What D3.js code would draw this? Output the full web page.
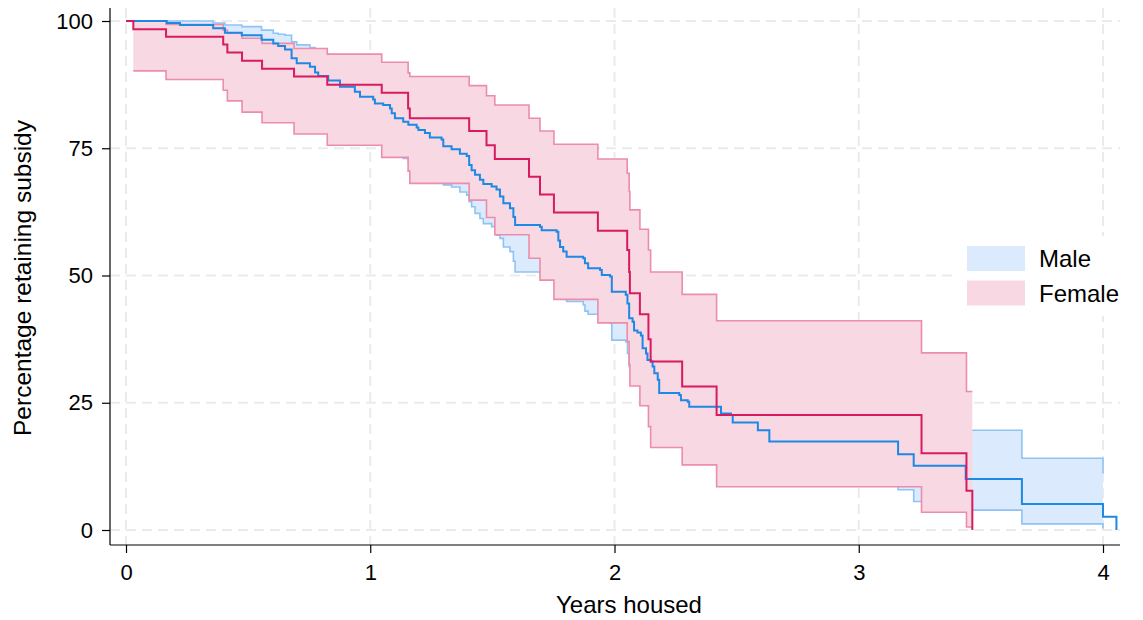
<!DOCTYPE html>
<html>
<head>
<meta charset="utf-8">
<script src="https://cdn.jsdelivr.net/npm/d3@7"></script>
<style>
  body { margin: 0; background: #fff; }
  text { font-family: "Liberation Sans", Arial, Helvetica, sans-serif; fill: #000; }
</style>
</head>
<body>
<div id="chart"></div>
<script>
// Kaplan-Meier survival by sex, with confidence bands
const xTicks = [0, 1, 2, 3, 4];
const yTicks = [0, 25, 50, 75, 100];
const legendLabels = ["Male", "Female"];

const maleTime = [0, 0.167, 0.221, 0.357, 0.405, 0.474, 0.555, 0.603, 0.623, 0.651,
  0.678, 0.699, 0.753, 0.774, 0.787, 0.828, 0.876, 0.937, 0.958, 1.012,
  1.019, 1.053, 1.081, 1.088, 1.101, 1.135, 1.156, 1.190, 1.197, 1.224,
  1.244, 1.292, 1.299, 1.333, 1.367, 1.395, 1.405, 1.415, 1.429, 1.449,
  1.463, 1.497, 1.517, 1.531, 1.545, 1.572, 1.586, 1.593, 1.695, 1.702,
  1.763, 1.770, 1.777, 1.790, 1.804, 1.872, 1.879, 1.892, 1.941, 1.948,
  1.982, 1.989, 2.046, 2.053, 2.060, 2.074, 2.080, 2.094, 2.108, 2.115,
  2.129, 2.135, 2.149, 2.156, 2.163, 2.177, 2.183, 2.265, 2.272, 2.300,
  2.306, 2.436, 2.477, 2.484, 2.587, 2.634, 3.161, 3.225, 3.438, 3.668,
  4.000, 4.055];
const maleSurv = [100, 99.6, 99.2, 98.6, 97.7, 97.2, 96.3, 95.6, 95.1, 94.4,
  92.7, 91.7, 91.0, 89.9, 89.2, 88.3, 87.1, 86.1, 85.1, 84.6,
  83.8, 83.5, 82.8, 81.9, 80.9, 80.2, 79.6, 79.1, 78.6, 78.0,
  77.1, 76.7, 75.4, 74.8, 73.9, 73.5, 71.7, 70.7, 69.8, 68.8,
  68.0, 67.5, 66.9, 65.5, 64.2, 63.2, 61.5, 59.9, 59.6, 58.9,
  58.6, 56.9, 55.6, 54.7, 53.7, 53.4, 52.4, 51.4, 51.1, 50.1,
  49.8, 46.8, 46.2, 44.5, 41.6, 40.9, 39.2, 38.8, 38.2, 35.7,
  34.7, 33.4, 33.1, 32.1, 30.8, 29.5, 26.9, 26.5, 25.5, 25.2,
  24.2, 22.9, 22.6, 21.1, 19.6, 17.4, 14.9, 12.6, 10.0, 5.1,
  2.6, 0];
const maleUpper = [100, 100, 100, 99.6, 99.2, 98.9, 98.2, 97.6, 97.4, 97.2,
  95.9, 95.3, 94.8, 94.0, 93.4, 92.6, 91.6, 90.7, 89.8, 89.3,
  88.6, 88.4, 87.8, 87.0, 86.1, 85.5, 85.0, 84.6, 84.1, 83.6,
  82.8, 82.4, 81.2, 80.7, 79.9, 79.5, 77.9, 77.0, 76.2, 75.3,
  74.6, 74.2, 73.6, 72.4, 71.2, 70.3, 68.8, 67.4, 67.1, 66.5,
  66.2, 64.7, 63.5, 62.7, 61.8, 61.5, 60.6, 59.7, 59.4, 58.5,
  58.2, 55.5, 55.0, 53.4, 50.7, 50.1, 48.5, 48.1, 47.6, 45.3,
  44.4, 43.2, 42.9, 42.0, 40.8, 39.6, 37.1, 36.7, 35.8, 35.5,
  34.5, 33.2, 32.9, 31.4, 29.9, 27.7, 25.2, 22.6, 19.6, 14.1,
  11.1, null];
const maleLower = [100, 98.0, 97.5, 96.6, 95.5, 94.9, 93.7, 92.9, 92.2, 91.4,
  89.3, 88.2, 87.3, 86.0, 85.3, 84.0, 82.6, 81.4, 80.3, 79.6,
  78.7, 78.2, 77.3, 76.3, 74.4, 73.0, 72.3, 71.8, 71.2, 70.5,
  69.5, 68.6, 67.8, 67.4, 66.4, 65.8, 64.5, 63.5, 62.2, 61.2,
  60.2, 59.6, 57.9, 57.3, 55.6, 54.7, 52.8, 50.7, 50.4, 49.6,
  49.2, 47.8, 46.6, 45.6, 44.9, 44.2, 43.0, 42.4, 41.8, 41.1,
  40.6, 37.3, 37.0, 34.7, 32.1, 31.4, 29.8, 29.4, 28.8, 26.5,
  25.6, 24.4, 24.1, 23.2, 22.0, 20.8, 18.5, 18.1, 17.2, 16.9,
  16.0, 14.8, 14.5, 13.2, 11.9, 10.2, 7.9, 5.6, 3.9, 1.2,
  0.3, null];

const femaleTime = [0, 0.030, 0.164, 0.398, 0.415, 0.475, 0.557, 0.688, 0.824, 1.047,
  1.155, 1.162, 1.405, 1.476, 1.510, 1.650, 1.695, 1.752, 1.932, 2.052,
  2.060, 2.063, 2.104, 2.139, 2.148, 2.277, 2.418, 3.257, 3.441, 3.465];
const femaleSurv = [100, 98.4, 96.9, 95.4, 93.8, 92.2, 90.6, 89.1, 87.5, 85.9,
  82.8, 80.9, 78.4, 75.6, 72.9, 69.4, 65.9, 62.4, 58.8, 55.0,
  50.7, 46.5, 42.4, 37.5, 33.1, 28.2, 22.6, 15.1, 7.7, 0];
const femaleUpper = [100, 100, 99.3, 98.2, 97.6, 96.6, 95.6, 94.6, 93.5, 91.9,
  89.8, 89.1, 87.3, 85.3, 83.5, 80.9, 78.4, 75.8, 72.9, 70.1,
  66.5, 62.9, 59.1, 55.0, 50.7, 46.3, 41.1, 34.8, 27.2, 27.2];
const femaleLower = [100, 90.2, 88.5, 86.4, 84.3, 82.1, 80.0, 77.8, 75.6, 73.2,
  70.5, 68.1, 64.8, 61.4, 58.0, 53.4, 49.1, 45.3, 40.7, 37.0,
  32.5, 28.3, 24.4, 20.3, 16.2, 12.8, 8.5, 3.5, 0.6, 0.6];

const MALE_LINE = "#1e88e5", MALE_FILL = "#dbeafc", MALE_EDGE = "#8fc3f3";
const FEMALE_LINE = "#d81b60", FEMALE_FILL = "#f7d8e3", FEMALE_EDGE = "#eb8dab";

const W = 1143, H = 620;
const svg = d3.select("#chart").append("svg").attr("width", W).attr("height", H);

const x = d3.scaleLinear().domain([0, 4]).range([126, 1103]);
const y = d3.scaleLinear().domain([0, 100]).range([530, 21]);
const plotLeft = 110, plotRight = 1120, plotTop = 8, plotBottom = 545;

// grid
svg.append("g").selectAll("line").data(yTicks).join("line")
  .attr("x1", plotLeft).attr("x2", plotRight)
  .attr("y1", d => y(d)).attr("y2", d => y(d))
  .attr("stroke", "#ebebeb").attr("stroke-width", 2).attr("stroke-dasharray", "10,6");
svg.append("g").selectAll("line").data(xTicks).join("line")
  .attr("x1", d => x(d)).attr("x2", d => x(d))
  .attr("y1", plotTop).attr("y2", plotBottom)
  .attr("stroke", "#ebebeb").attr("stroke-width", 2).attr("stroke-dasharray", "10,6");

function rows(time, s, u, l) {
  return time.map((t, i) => ({ t: t, s: s[i], u: u[i], l: l[i] }));
}
const male = rows(maleTime, maleSurv, maleUpper, maleLower);
const female = rows(femaleTime, femaleSurv, femaleUpper, femaleLower);

const band = d3.area().curve(d3.curveStepAfter)
  .defined(d => d.u != null)
  .x(d => x(d.t)).y0(d => y(d.l)).y1(d => y(d.u));
const edge = key => d3.line().curve(d3.curveStepAfter)
  .defined(d => d[key] != null)
  .x(d => x(d.t)).y(d => y(d[key]));

function drawBand(data, fill, stroke) {
  const g = svg.append("g");
  g.append("path").datum(data).attr("d", band).attr("fill", fill);
  const inner = data.slice(1);
  ["u", "l"].forEach(k => {
    g.append("path").datum(inner).attr("d", edge(k))
      .attr("fill", "none").attr("stroke", stroke).attr("stroke-width", 1.6);
  });
}
drawBand(male, MALE_FILL, MALE_EDGE);
drawBand(female, FEMALE_FILL, FEMALE_EDGE);

svg.append("path").datum(male).attr("d", edge("s"))
  .attr("fill", "none").attr("stroke", MALE_LINE).attr("stroke-width", 2);
svg.append("path").datum(female).attr("d", edge("s"))
  .attr("fill", "none").attr("stroke", FEMALE_LINE).attr("stroke-width", 2);

// axes
const xAxis = svg.append("g").attr("transform", `translate(0,${plotBottom})`)
  .call(d3.axisBottom(x).tickValues(xTicks).tickSize(8).tickPadding(11).tickFormat(d3.format("d")));
const yAxis = svg.append("g").attr("transform", `translate(${plotLeft},0)`)
  .call(d3.axisLeft(y).tickValues(yTicks).tickSize(8).tickPadding(9).tickFormat(d3.format("d")));
xAxis.select(".domain").attr("d", `M${plotLeft},0H${plotRight}`);
yAxis.select(".domain").attr("d", `M0,${plotTop}V${plotBottom}`);
[xAxis, yAxis].forEach(a => {
  a.selectAll("path,line").attr("stroke", "#000").attr("stroke-width", 1.2);
  a.selectAll("text").attr("font-size", 22).attr("font-family", "Liberation Sans, Arial, sans-serif");
});

svg.append("text").attr("x", 629).attr("y", 613).attr("text-anchor", "middle")
  .attr("font-size", 24).text("Years housed");
svg.append("text").attr("transform", "translate(31,278) rotate(-90)")
  .attr("text-anchor", "middle").attr("font-size", 24.5).text("Percentage retaining subsidy");

// legend
const legend = svg.append("g");
legend.append("rect").attr("x", 952).attr("y", 236).attr("width", 180).attr("height", 80).attr("fill", "#fff");
const fills = [MALE_FILL, FEMALE_FILL];
legendLabels.forEach((lab, i) => {
  legend.append("rect").attr("x", 967).attr("y", 246 + i * 34.5)
    .attr("width", 58).attr("height", 25).attr("fill", fills[i]);
  legend.append("text").attr("x", 1039).attr("y", 267 + i * 34.5)
    .attr("font-size", 24).text(lab);
});
</script>
</body>
</html>
